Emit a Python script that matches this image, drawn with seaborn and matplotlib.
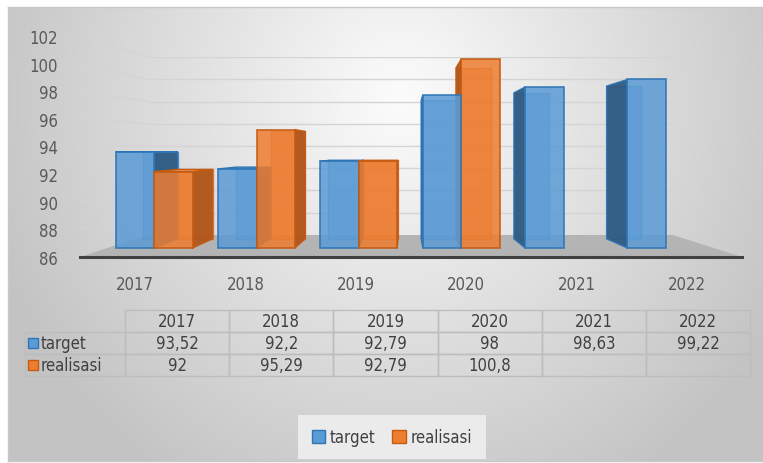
import numpy as np
import pandas as pd
import matplotlib
matplotlib.use("Agg")
import matplotlib.pyplot as plt
import seaborn as sns
from matplotlib.patches import Polygon, Rectangle, Patch
from matplotlib.transforms import IdentityTransform
from matplotlib.lines import Line2D
from matplotlib import font_manager

# ---------------- data ----------------
years = ["2017", "2018", "2019", "2020", "2021", "2022"]
series = ["target", "realisasi"]
target = [93.52, 92.2, 92.79, 98, 98.63, 99.22]
realisasi = [92, 95.29, 92.79, 100.8, np.nan, np.nan]
target_labels = ["93,52", "92,2", "92,79", "98", "98,63", "99,22"]
realisasi_labels = ["92", "95,29", "92,79", "100,8", "", ""]
yticks = [86, 88, 90, 92, 94, 96, 98, 100, 102]

df = pd.DataFrame({
    "year": years * 2,
    "series": ["target"] * 6 + ["realisasi"] * 6,
    "value": target + realisasi,
})

# ---------------- style ----------------
sns.set_style("white")
names = {f.name for f in font_manager.fontManager.ttflist}
cond = [f for f in font_manager.fontManager.ttflist
        if f.name in ("Liberation Sans Narrow", "DejaVu Sans", "Open Sans", "Roboto", "Noto Sans")
        and str(f.stretch) in ("condensed", "semi-condensed", "semi-expanded", "75", "87.5")]
if "Liberation Sans Narrow" in names:
    fam = "Liberation Sans Narrow"
elif cond:
    fam = cond[0].name
    plt.rcParams["font.stretch"] = cond[0].stretch
else:
    fam = "Open Sans"
plt.rcParams["font.family"] = [fam, "DejaVu Sans"]
TXT = "#595959"
front_col = {"target": "#5B9BD5", "realisasi": "#ED7D31"}
edge_col = {"target": "#2E75B6", "realisasi": "#C55A11"}
side_col = {"target": "#2F5B82", "realisasi": "#B0561C"}
top_col = {"target": "#86B7E6", "realisasi": "#F4A46A"}

W, H = 763, 464
fig = plt.figure(figsize=(W / 100, H / 100), dpi=100)
fig.patch.set_facecolor("white")


def rect(x0, ytop, x1, ybot):
    return [x0 / W, 1 - ybot / H, (x1 - x0) / W, (ybot - ytop) / H]


# background gradient
ax_bg = fig.add_axes(rect(8, 8, 763, 462))
ax_bg.set_zorder(-10)
gx, gy = np.meshgrid(np.linspace(8, 763, 300), np.linspace(8, 462, 200))
r = np.sqrt(((gx - 400) / 420) ** 2 + ((gy - 100) / 440) ** 2)
val = np.clip(252 - 55 * r, 195, 252) / 255.0
ax_bg.imshow(np.dstack([val, val, val]), aspect="auto", extent=[0, 1, 0, 1],
             transform=ax_bg.transAxes)
ax_bg.set_xticks([])
ax_bg.set_yticks([])
for s in ax_bg.spines.values():
    s.set_color("#c8c8c8")
    s.set_linewidth(1)

GRID = "#d4d4d4"

# back wall (gridlines)
ax_back = fig.add_axes(rect(147, 58, 673, 236))
ax_back.set_ylim(86, 102)
ax_back.set_xlim(0, 1)
ax_back.axis("off")
for t in yticks[1:]:
    ax_back.axhline(t, color=GRID, lw=1)

# front plane (ticks, floor)
ax_front = fig.add_axes(rect(80, 37, 742, 258))
ax_front.set_facecolor("none")
ax_front.set_ylim(86, 102)
ax_front.set_xlim(-0.5, len(years) - 0.5)
ax_front.set_yticks(yticks)
ax_front.set_yticklabels([str(t) for t in yticks])
ax_front.set_xticks(range(len(years)))
ax_front.set_xticklabels(years)
ax_front.tick_params(axis="both", length=0, labelsize=12, colors=TXT)
ax_front.tick_params(axis="y", pad=16)
ax_front.tick_params(axis="x", pad=13)
for k in ["left", "right", "top"]:
    ax_front.spines[k].set_visible(False)
ax_front.spines["bottom"].set_color("#404040")
ax_front.spines["bottom"].set_linewidth(2.2)
ax_front.spines["bottom"].set_zorder(5)

# floor polygon and diagonal grid connectors (derived from axes transforms)
fl = ax_front.transAxes.transform((0, 0))
fr = ax_front.transAxes.transform((1, 0))
bl = ax_back.transAxes.transform((0, 0))
br = ax_back.transAxes.transform((1, 0))
ax_front.add_patch(Polygon([fl, fr, br, bl], closed=True, facecolor="#b4b4b4",
                           edgecolor="none", transform=IdentityTransform(),
                           clip_on=False, zorder=0.5))
for t in yticks[1:]:
    pf = ax_front.transData.transform((-0.5, t))
    pb = ax_back.transData.transform((0, t))
    ax_front.add_line(Line2D([pf[0], pb[0]], [pf[1], pb[1]], color=GRID, lw=1,
                             transform=IdentityTransform(), clip_on=False, zorder=0.3))

# bar plane
ax_bars = fig.add_axes(rect(103, 45, 717, 249))
ax_bars.set_zorder(3)
ax_bars.set_facecolor("none")
sns.barplot(data=df, x="year", y="value", hue="series", hue_order=series,
            order=years, palette=front_col, width=0.75, saturation=1,
            legend=False, ax=ax_bars)
ax_bars.set_ylim(86, 102)
ax_bars.set_xlim(-0.5, len(years) - 0.5)
ax_bars.axis("off")

vp = np.array([406.0, H - 151.0])
depth = 0.094


def back(p):
    p = np.asarray(p, float)
    return p + depth * (vp - p)


bars = []
for cont, name in zip(ax_bars.containers, series):
    for p in cont.patches:
        h = p.get_height()
        if h is None or np.isnan(h):
            continue
        p.set_y(86)
        p.set_height(h - 86)
        bars.append((p, name))

bars.sort(key=lambda b: -abs(ax_bars.transData.transform((b[0].get_x() + b[0].get_width() / 2, 90))[0] - vp[0]))

for rank, (p, name) in enumerate(bars):
    z = 2 + rank * 2
    x0, y0 = p.get_x(), p.get_y()
    x1, y1 = x0 + p.get_width(), y0 + p.get_height()
    FLb = ax_bars.transData.transform((x0, y0))
    FRb = ax_bars.transData.transform((x1, y0))
    FRt = ax_bars.transData.transform((x1, y1))
    FLt = ax_bars.transData.transform((x0, y1))
    ax_bars.add_patch(Polygon([back(FLb), back(FRb), back(FRt), back(FLt)], closed=True,
                              facecolor=front_col[name], alpha=0.6, edgecolor=edge_col[name],
                              lw=1, transform=IdentityTransform(), clip_on=False, zorder=z + 0.1))
    if FRb[0] < vp[0]:
        side = [FRb, FRt, back(FRt), back(FRb)]
    else:
        side = [FLb, FLt, back(FLt), back(FLb)]
    ax_bars.add_patch(Polygon(side, closed=True, facecolor=side_col[name],
                              edgecolor=edge_col[name], lw=1, alpha=0.95,
                              transform=IdentityTransform(), clip_on=False, zorder=z + 0.3))
    if FLt[1] < vp[1]:
        ax_bars.add_patch(Polygon([FLt, FRt, back(FRt), back(FLt)], closed=True,
                                  facecolor=top_col[name], edgecolor=edge_col[name], lw=1,
                                  transform=IdentityTransform(), clip_on=False, zorder=z + 0.4))
    p.set_facecolor(front_col[name])
    p.set_alpha(0.85)
    p.set_edgecolor(edge_col[name])
    p.set_linewidth(1.3)
    p.set_zorder(z + 0.5)
    p.set_clip_on(False)

# ---------------- data table ----------------
ax_tab = fig.add_axes(rect(25, 311, 750, 377))
ax_tab.axis("off")
cell_text = [[""] + years,
             [""] + target_labels,
             [""] + realisasi_labels]
col_w = [100 / 725] + [625 / 6 / 725] * 6
tab = ax_tab.table(cellText=cell_text, cellLoc="center", colWidths=col_w, bbox=[0, 0, 1, 1])
tab.auto_set_font_size(False)
tab.set_fontsize(12)
for (rr, cc), cell in tab.get_celld().items():
    cell.set_edgecolor("#bdbdbd")
    cell.set_facecolor("none")
    cell.set_linewidth(1)
    cell.get_text().set_color("#404040")
tab[0, 0].visible_edges = ""

for i, name in enumerate(series):
    yc = 1 - (1.5 + i) / 3
    ax_tab.add_patch(Rectangle(((28 - 25) / 725, yc - 5 / 66), 10 / 725, 10 / 66,
                               facecolor=front_col[name], edgecolor=edge_col[name],
                               lw=1, transform=ax_tab.transAxes, clip_on=False))
    ax_tab.text((41 - 25) / 725, yc, name, transform=ax_tab.transAxes,
                ha="left", va="center", fontsize=12, color="#404040")

# ---------------- legend ----------------
handles = [Patch(facecolor=front_col[s], edgecolor=edge_col[s], label=s) for s in series]
leg = fig.legend(handles=handles, loc="center", bbox_to_anchor=(392 / W, 1 - 438 / H),
                 ncol=2, frameon=True, fancybox=False, facecolor="#ebebeb",
                 edgecolor="none", framealpha=1, fontsize=12, handlelength=0.8,
                 handleheight=0.8, handletextpad=0.3, columnspacing=1.0,
                 borderpad=0.8, labelcolor="#404040")

fig.savefig("out.png", dpi=100)
